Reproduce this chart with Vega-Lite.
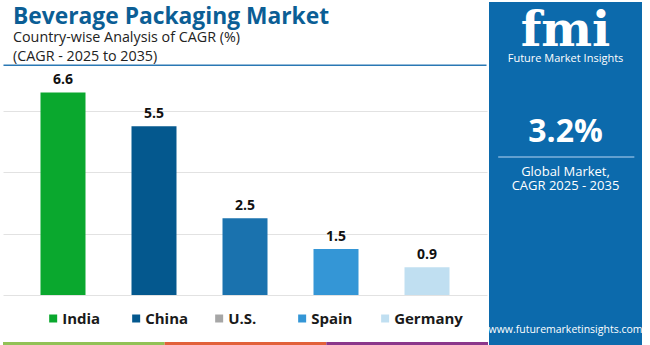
{
  "$schema": "https://vega.github.io/schema/vega-lite/v6.json",
  "background": "white",
  "padding": {"top": 2, "left": 3, "right": 0, "bottom": 0},
  "config": {"view": {"stroke": null}, "font": "Open Sans"},
  "datasets": {
    "cagr": [
      {"country": "India", "cagr": 6.6},
      {"country": "China", "cagr": 5.5},
      {"country": "U.S.", "cagr": 2.5},
      {"country": "Spain", "cagr": 1.5},
      {"country": "Germany", "cagr": 0.9}
    ]
  },
  "spacing": 0,
  "hconcat": [
    {
      "spacing": 0,
      "resolve": {"scale": {"color": "independent", "fill": "independent"}},
      "vconcat": [
        {
          "width": 484,
          "height": 64,
          "data": {
            "values": [
              {"key": "title", "text": "Beverage Packaging Market"},
              {"key": "sub1", "text": "Country-wise Analysis of CAGR (%)"},
              {"key": "sub2", "text": "(CAGR - 2025 to 2035)"}
            ]
          },
          "layer": [
            {
              "transform": [{"filter": "datum.key === 'title'"}],
              "mark": {"type": "text", "align": "left", "baseline": "alphabetic", "fontSize": 22.8, "fontWeight": "bold", "color": "#0b5e95"},
              "encoding": {
                "x": {"datum": 0.0207, "type": "quantitative", "scale": {"domain": [0, 1]}, "axis": null},
                "y": {"datum": 0.336, "type": "quantitative", "scale": {"domain": [0, 1], "reverse": true}, "axis": null},
                "text": {"field": "text"}
              }
            },
            {
              "transform": [{"filter": "datum.key === 'sub1'"}],
              "mark": {"type": "text", "align": "left", "baseline": "alphabetic", "fontSize": 14.3, "color": "#222222"},
              "encoding": {
                "x": {"datum": 0.0207, "type": "quantitative"},
                "y": {"datum": 0.625, "type": "quantitative"},
                "text": {"field": "text"}
              }
            },
            {
              "transform": [{"filter": "datum.key === 'sub2'"}],
              "mark": {"type": "text", "align": "left", "baseline": "alphabetic", "fontSize": 14.3, "color": "#222222"},
              "encoding": {
                "x": {"datum": 0.0207, "type": "quantitative"},
                "y": {"datum": 0.922, "type": "quantitative"},
                "text": {"field": "text"}
              }
            },
            {
              "transform": [{"filter": "datum.key === 'title'"}],
              "mark": {"type": "rect", "color": "#2a78b4"},
              "encoding": {
                "x": {"datum": 0.001, "type": "quantitative"},
                "x2": {"datum": 0.999},
                "y": {"datum": 0.975, "type": "quantitative"},
                "y2": {"datum": 1.0}
              }
            }
          ]
        },
        {
          "width": 484,
          "height": 229,
          "data": {"name": "cagr"},
          "layer": [
            {
              "mark": {"type": "bar"},
              "encoding": {
                "x": {"field": "country", "type": "nominal", "sort": null, "scale": {"paddingInner": 0.5055, "paddingOuter": 0.412}, "axis": null},
                "y": {"field": "cagr", "type": "quantitative", "scale": {"domain": [0, 7.46], "nice": false},
                  "axis": {"values": [0, 1, 2, 3, 4, 5, 6], "grid": true, "gridColor": "#e2e2e2", "labels": false, "ticks": false, "domain": false, "title": null}},
                "color": {
                  "field": "country", "type": "nominal",
                  "scale": {"domain": ["India", "China", "U.S.", "Spain", "Germany"], "range": ["#0aa82e", "#04588e", "#1a72ae", "#3496d6", "#c0dff1"]},
                  "legend": null
                }
              }
            },
            {
              "mark": {"type": "text", "baseline": "bottom", "dy": -5, "fontWeight": "bold", "fontSize": 14, "color": "#111111"},
              "encoding": {
                "x": {"field": "country", "type": "nominal", "sort": null},
                "y": {"field": "cagr", "type": "quantitative"},
                "text": {"field": "cagr", "type": "quantitative", "format": ".1f"}
              }
            }
          ]
        },
        {
          "width": 484,
          "height": 47,
          "data": {"name": "cagr"},
          "layer": [
            {
              "mark": {"type": "square", "size": 64, "opacity": 1},
              "encoding": {
                "x": {"field": "country", "type": "nominal", "sort": null, "scale": {"type": "point", "padding": 0.916, "align": 0.33}, "axis": null},
                "fill": {
                  "field": "country", "type": "nominal",
                  "scale": {"domain": ["India", "China", "U.S.", "Spain", "Germany"], "range": ["#0aa82e", "#04588e", "#a6a6a6", "#3496d6", "#c0dff1"]},
                  "legend": null
                }
              }
            },
            {
              "mark": {"type": "text", "align": "left", "baseline": "middle", "dx": 9, "fontSize": 15, "fontWeight": "bold", "color": "#1a1a1a"},
              "encoding": {
                "x": {"field": "country", "type": "nominal", "sort": null},
                "text": {"field": "country", "type": "nominal"}
              }
            }
          ]
        },
        {
          "width": 485,
          "height": 4,
          "data": {"values": [{"seg": "a"}, {"seg": "b"}, {"seg": "c"}]},
          "mark": {"type": "rect"},
          "encoding": {
            "x": {"field": "seg", "type": "nominal", "scale": {"paddingInner": 0, "paddingOuter": 0}, "axis": null},
            "color": {"field": "seg", "type": "nominal", "scale": {"range": ["#92c156", "#e2613a", "#8b378b"]}, "legend": null}
          }
        }
      ]
    },
    {
      "width": 153,
      "height": 343,
      "view": {"fill": "#0c6aac", "stroke": null},
      "data": {
        "values": [
          {"key": "logo", "text": "fmi"},
          {"key": "brand", "text": "Future Market Insights"},
          {"key": "value", "text": "3.2%"},
          {"key": "label1", "text": "Global Market,"},
          {"key": "label2", "text": "CAGR 2025 - 2035"},
          {"key": "url", "text": "www.futuremarketinsights.com"}
        ]
      },
      "layer": [
        {
          "transform": [{"filter": "datum.key === 'logo'"}],
          "mark": {"type": "text", "font": "DejaVu Serif", "fontWeight": "bold", "fontSize": 48, "color": "white", "baseline": "alphabetic"},
          "encoding": {
            "x": {"datum": 0.5, "type": "quantitative", "scale": {"domain": [0, 1]}, "axis": null},
            "y": {"datum": 0.128, "type": "quantitative", "scale": {"domain": [0, 1], "reverse": true}, "axis": null},
            "text": {"field": "text"}
          }
        },
        {
          "transform": [{"filter": "datum.key === 'brand'"}],
          "mark": {"type": "text", "fontSize": 11, "color": "white", "baseline": "middle"},
          "encoding": {
            "x": {"datum": 0.5, "type": "quantitative"},
            "y": {"datum": 0.166, "type": "quantitative"},
            "text": {"field": "text"}
          }
        },
        {
          "transform": [{"filter": "datum.key === 'value'"}],
          "mark": {"type": "text", "fontSize": 32, "fontWeight": "bold", "color": "white", "baseline": "middle"},
          "encoding": {
            "x": {"datum": 0.5, "type": "quantitative"},
            "y": {"datum": 0.379, "type": "quantitative"},
            "text": {"field": "text"}
          }
        },
        {
          "data": {"values": [{}]},
          "mark": {"type": "rule", "color": "#7fb3dc", "strokeWidth": 1.5},
          "encoding": {
            "x": {"datum": 0.06, "type": "quantitative"},
            "x2": {"datum": 0.95},
            "y": {"datum": 0.452, "type": "quantitative"}
          }
        },
        {
          "transform": [{"filter": "datum.key === 'label1'"}],
          "mark": {"type": "text", "fontSize": 13, "color": "white", "baseline": "middle"},
          "encoding": {
            "x": {"datum": 0.5, "type": "quantitative"},
            "y": {"datum": 0.496, "type": "quantitative"},
            "text": {"field": "text"}
          }
        },
        {
          "transform": [{"filter": "datum.key === 'label2'"}],
          "mark": {"type": "text", "fontSize": 13, "color": "white", "baseline": "middle"},
          "encoding": {
            "x": {"datum": 0.5, "type": "quantitative"},
            "y": {"datum": 0.536, "type": "quantitative"},
            "text": {"field": "text"}
          }
        },
        {
          "transform": [{"filter": "datum.key === 'url'"}],
          "mark": {"type": "text", "fontSize": 10.5, "color": "white", "baseline": "middle"},
          "encoding": {
            "x": {"datum": 0.5, "type": "quantitative"},
            "y": {"datum": 0.956, "type": "quantitative"},
            "text": {"field": "text"}
          }
        }
      ]
    }
  ]
}
